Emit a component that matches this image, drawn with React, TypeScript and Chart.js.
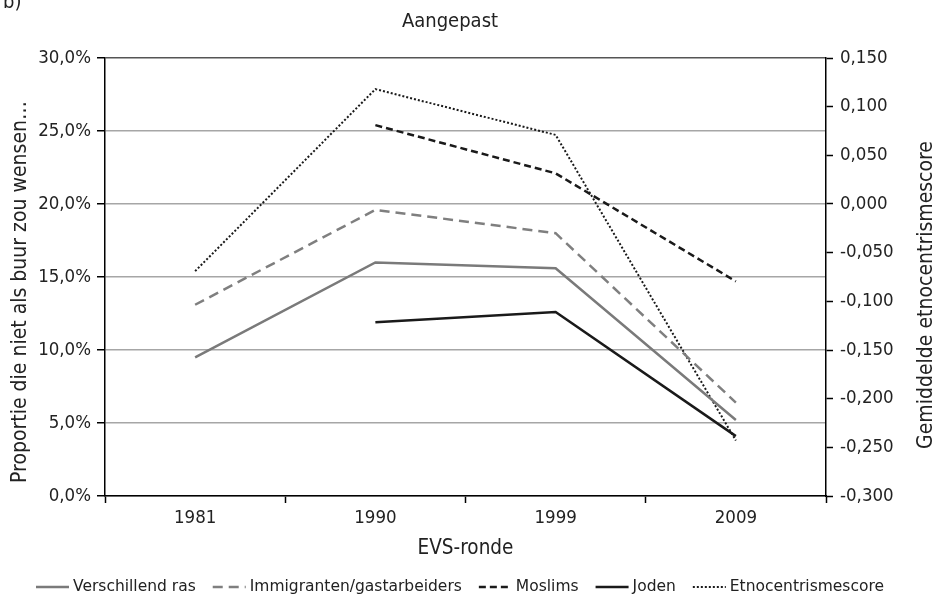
import React, { useEffect, useRef } from 'react';
import { Chart, registerables } from 'chart.js';

Chart.register(...registerables);

// ---- data ----
const rounds = ['1981', '1990', '1999', '2009'];
const verschillendRas = [9.5, 16.0, 15.6, 5.2];
const immigranten = [13.1, 19.6, 18.0, 6.4];
const moslims = [null, 25.4, 22.1, 14.7];
const joden = [null, 11.9, 12.6, 4.1];
const etnocentrisme = [-0.069, 0.118, 0.071, -0.243];

const seriesLabels = [
  'Verschillend ras',
  'Immigranten/gastarbeiders',
  'Moslims',
  'Joden',
  'Etnocentrismescore',
];

const chartTitle = 'Aangepast';
const panelLabel = 'b)';
const leftTitle = 'Proportie die niet als buur zou wensen…';
const rightTitle = 'Gemiddelde etnocentrismescore';
const xTitle = 'EVS-ronde';

const FONT = '"DejaVu Sans Condensed", "DejaVu Sans", sans-serif';
const LEGEND_FONT = '"DejaVu Sans", sans-serif';
const TEXT = '#222222';

const textPlugin = {
  id: 'extraText',
  afterDraw(chart: any) {
    const ctx = chart.ctx as CanvasRenderingContext2D;
    ctx.save();
    ctx.fillStyle = TEXT;
    ctx.font = `20px ${FONT}`;
    ctx.textAlign = 'left';
    ctx.textBaseline = 'alphabetic';
    ctx.fillText(panelLabel, 3, 8);
    ctx.textAlign = 'center';
    ctx.fillText(chartTitle, 450, 27);

    ctx.font = `21px ${FONT}`;
    // left axis title
    ctx.save();
    ctx.translate(26, 292);
    ctx.rotate(-Math.PI / 2);
    ctx.fillText(leftTitle, 0, 0);
    ctx.restore();

    // right axis title
    ctx.save();
    ctx.translate(932, 295);
    ctx.rotate(-Math.PI / 2);
    ctx.fillText(rightTitle, 0, 0);
    ctx.restore();

    // legend
    ctx.font = `15.5px ${LEGEND_FONT}`;
    ctx.textAlign = 'left';
    ctx.textBaseline = 'middle';
    const sample = 33;
    const gapT = 4;
    const gapI = 17;
    const items = chart.data.datasets.map((ds: any) => ({ ds, w: ctx.measureText(ds.label).width }));
    const total =
      items.reduce((s: number, it: any) => s + sample + gapT + it.w, 0) + gapI * (items.length - 1);
    let x = 460 - total / 2;
    const y = 587;
    for (const it of items) {
      const ds = it.ds;
      ctx.save();
      ctx.strokeStyle = ds.borderColor;
      ctx.lineWidth = ds.borderWidth;
      ctx.setLineDash(ds.borderDash || []);
      ctx.beginPath();
      ctx.moveTo(x, y);
      ctx.lineTo(x + sample, y);
      ctx.stroke();
      ctx.restore();
      ctx.fillStyle = TEXT;
      ctx.fillText(ds.label, x + sample + gapT, y);
      x += sample + gapT + it.w + gapI;
    }
    ctx.restore();
  },
};

export default function App() {
  const ref = useRef<HTMLCanvasElement | null>(null);

  useEffect(() => {
    if (!ref.current) return;
    const chart = new Chart(ref.current, {
      type: 'line',
      data: {
        labels: rounds,
        datasets: [
          {
            label: seriesLabels[0],
            data: verschillendRas,
            borderColor: '#7a7a7a',
            borderWidth: 2.5,
            yAxisID: 'y',
          },
          {
            label: seriesLabels[1],
            data: immigranten,
            borderColor: '#7f7f7f',
            borderWidth: 2.5,
            borderDash: [10, 6],
            yAxisID: 'y',
          },
          {
            label: seriesLabels[2],
            data: moslims,
            borderColor: '#1a1a1a',
            borderWidth: 2.5,
            borderDash: [7, 4],
            yAxisID: 'y',
          },
          {
            label: seriesLabels[3],
            data: joden,
            borderColor: '#1a1a1a',
            borderWidth: 2.5,
            yAxisID: 'y',
          },
          {
            label: seriesLabels[4],
            data: etnocentrisme,
            borderColor: '#1a1a1a',
            borderWidth: 2,
            borderDash: [2, 2],
            yAxisID: 'y2',
          },
        ] as any,
      },
      options: {
        animation: false,
        responsive: false,
        layout: { padding: { top: 58, right: 0, bottom: 39, left: 0 } },
        elements: {
          point: { radius: 0, hoverRadius: 0 },
          line: { tension: 0, borderCapStyle: 'butt' },
        },
        plugins: {
          legend: { display: false },
          title: { display: false },
          tooltip: { enabled: false },
        },
        scales: {
          x: {
            type: 'category',
            offset: true,
            grid: {
              offset: true,
              drawOnChartArea: false,
              drawTicks: true,
              tickLength: 7,
              tickColor: '#000',
              tickWidth: 1.5,
            },
            border: { color: '#000', width: 1.5 },
            ticks: { font: { family: FONT, size: 18.5 }, color: TEXT, padding: 4 },
            title: {
              display: true,
              text: xTitle,
              font: { family: FONT, size: 20.5 },
              color: TEXT,
              padding: { top: 0, bottom: 0 },
            },
            afterFit: (s: any) => {
              s.height = 65;
            },
          },
          y: {
            type: 'linear',
            position: 'left',
            min: 0,
            max: 30,
            ticks: {
              stepSize: 5,
              font: { family: FONT, size: 18.5 },
              color: TEXT,
              padding: 6,
              callback: (v: any) => Number(v).toFixed(1).replace('.', ',') + '%',
            },
            grid: {
              color: (c: any) => (c.tick && c.tick.value === 30 ? '#555555' : '#a6a6a6'),
              lineWidth: 1.5,
              drawTicks: true,
              tickLength: 8,
              tickColor: '#000',
              tickWidth: 1.5,
            },
            border: { color: '#000', width: 1.5 },
            afterFit: (s: any) => {
              s.width = 105;
            },
          },
          y2: {
            type: 'linear',
            position: 'right',
            min: -0.3,
            max: 0.15,
            ticks: {
              stepSize: 0.05,
              font: { family: FONT, size: 18.5 },
              color: TEXT,
              padding: 7,
              callback: (v: any) => {
                let n = Number(v);
                if (Math.abs(n) < 1e-9) n = 0;
                return n.toFixed(3).replace('.', ',');
              },
            },
            grid: {
              drawOnChartArea: false,
              drawTicks: true,
              tickLength: 7,
              tickColor: '#000',
              tickWidth: 1.5,
            },
            border: { color: '#000', width: 1.5 },
            afterFit: (s: any) => {
              s.width = 112;
            },
          },
        },
      } as any,
      plugins: [textPlugin],
    });
    return () => chart.destroy();
  }, []);

  return (
    <div style={{ position: 'absolute', left: 0, top: 0, width: 938, height: 600, background: '#fff' }}>
      <canvas ref={ref} width={938} height={600} style={{ display: 'block' }} />
    </div>
  );
}
